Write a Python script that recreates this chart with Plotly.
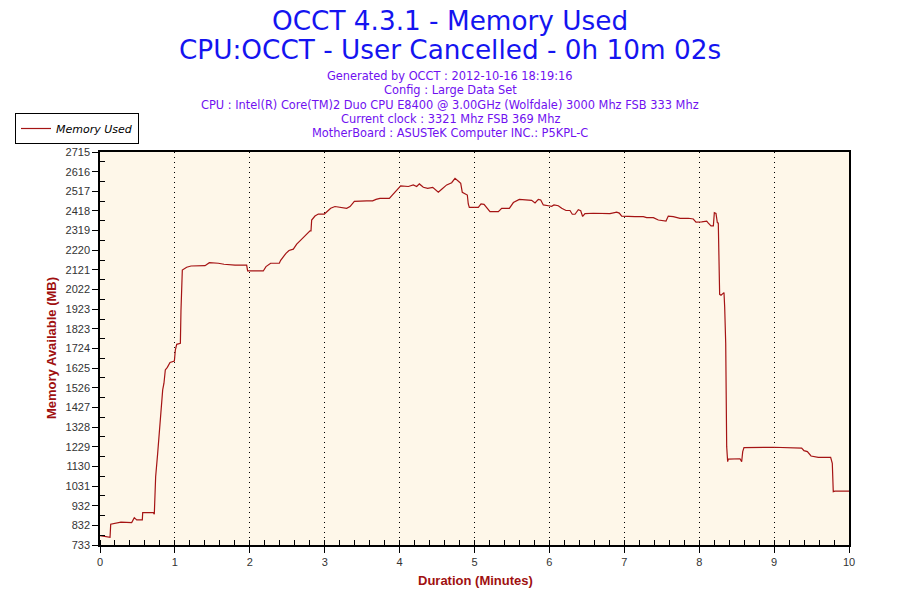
import numpy as np
import plotly.graph_objects as go

minutes = [0.0, 0.06, 0.134, 0.143, 0.28, 0.423, 0.458, 0.49, 0.565, 0.57, 0.712, 0.725, 0.734, 0.743,
           0.77, 0.788, 0.806, 0.823, 0.837, 0.854, 0.872, 0.899, 0.935, 0.993, 1.006, 1.024, 1.073,
           1.081, 1.099, 1.157, 1.215, 1.402, 1.46, 1.58, 1.656, 1.802, 1.958, 1.971, 2.18, 2.216,
           2.278, 2.394, 2.412, 2.483, 2.523, 2.581, 2.626, 2.67, 2.75, 2.804, 2.817, 2.826, 2.87,
           2.915, 2.995, 3.035, 3.08, 3.137, 3.226, 3.293, 3.338, 3.396, 3.56, 3.64, 3.685, 3.738,
           3.863, 3.939, 4.014, 4.117, 4.183, 4.228, 4.264, 4.317, 4.375, 4.442, 4.517, 4.562, 4.629,
           4.695, 4.74, 4.793, 4.816, 4.837, 4.904, 4.917, 4.931, 5.051, 5.087, 5.127, 5.207, 5.318,
           5.363, 5.465, 5.519, 5.598, 5.688, 5.763, 5.808, 5.852, 5.884, 5.919, 5.986, 6.03, 6.061,
           6.119, 6.164, 6.222, 6.275, 6.306, 6.342, 6.386, 6.418, 6.444, 6.475, 6.586, 6.809, 6.898,
           6.933, 6.965, 7.143, 7.254, 7.299, 7.388, 7.454, 7.512, 7.557, 7.587, 7.654, 7.744, 7.855,
           7.921, 7.957, 8.033, 8.1, 8.122, 8.158, 8.189, 8.202, 8.224, 8.242, 8.255, 8.264, 8.273,
           8.291, 8.309, 8.331, 8.34, 8.354, 8.367, 8.38, 8.389, 8.478, 8.545, 8.567, 8.581, 8.598,
           8.812, 8.834, 8.901, 8.99, 9.368, 9.399, 9.444, 9.493, 9.59, 9.755, 9.777, 9.79, 9.813, 10.0]

memory_mb = [780, 776, 772, 838, 848, 846, 871, 860, 860, 896, 896, 888, 960, 1077,
             1195, 1279, 1380, 1426, 1515, 1549, 1616, 1629, 1654, 1661, 1716, 1745, 1750,
             1913, 2120, 2134, 2140, 2142, 2157, 2154, 2149, 2144, 2144, 2115, 2115, 2137,
             2154, 2154, 2169, 2204, 2218, 2225, 2250, 2267, 2300, 2317, 2317, 2372, 2392,
             2402, 2402, 2414, 2431, 2440, 2434, 2431, 2440, 2466, 2469, 2469, 2476, 2481,
             2481, 2515, 2544, 2541, 2549, 2541, 2554, 2537, 2532, 2537, 2512, 2527, 2549,
             2560, 2582, 2565, 2557, 2512, 2498, 2453, 2436, 2436, 2453, 2451, 2414, 2414,
             2431, 2431, 2460, 2476, 2473, 2471, 2458, 2476, 2473, 2448, 2444, 2441, 2448,
             2444, 2431, 2420, 2420, 2401, 2401, 2424, 2419, 2390, 2404, 2406, 2404, 2412,
             2407, 2392, 2389, 2389, 2384, 2384, 2372, 2367, 2367, 2392, 2389, 2380, 2381,
             2377, 2361, 2363, 2366, 2356, 2342, 2342, 2409, 2405, 2359, 2356, 2196, 1997,
             1993, 2001, 2006, 1935, 1750, 1229, 1153, 1166, 1168, 1168, 1153, 1204, 1224,
             1224, 1227, 1224, 1226, 1222, 1209, 1204, 1182, 1175, 1175, 1145, 1002, 1005, 1005]

y_tick_labels = ["733", "832", "932", "1031", "1130", "1229", "1328", "1427", "1526", "1625",
                 "1724", "1823", "1923", "2022", "2121", "2220", "2319", "2418", "2517", "2616", "2715"]
x_tick_values = [0, 1, 2, 3, 4, 5, 6, 7, 8, 9, 10]

title_lines = ["OCCT 4.3.1 - Memory Used", "CPU:OCCT - User Cancelled - 0h 10m 02s"]
info_lines = ["Generated by OCCT : 2012-10-16 18:19:16",
              "Config : Large Data Set",
              "CPU : Intel(R) Core(TM)2 Duo CPU E8400 @ 3.00GHz (Wolfdale) 3000 Mhz FSB 333 Mhz",
              "Current clock : 3321 Mhz FSB 369 Mhz",
              "MotherBoard : ASUSTeK Computer INC.: P5KPL-C"]

y_min, y_max = 733, 2715
y_tick_vals = list(np.linspace(y_min, y_max, len(y_tick_labels)))

fig = go.Figure()
fig.add_trace(go.Scatter(
    x=minutes, y=memory_mb, mode="lines", name="Memory Used",
    line=dict(color="#A51414", width=1.2),
))

W, H = 900, 600
L, T = 100, 152
R = W - 849
B = H - 545
pw = W - L - R
ph = H - T - B

def px_to_paper_x(px):
    return (px - L) / pw

def px_to_paper_y(py):
    return (H - B - py) / ph

annotations = []
for txt, ypx in zip(title_lines, [21, 50]):
    annotations.append(dict(text=txt, x=px_to_paper_x(450), y=px_to_paper_y(ypx), xref="paper", yref="paper",
                            xanchor="center", yanchor="middle", showarrow=False,
                            font=dict(family="DejaVu Sans", size=26.3, color="#1414F0")))
for i, txt in enumerate(info_lines):
    annotations.append(dict(text=txt, x=px_to_paper_x(450), y=px_to_paper_y(76 + i * 14.25), xref="paper", yref="paper",
                            xanchor="center", yanchor="middle", showarrow=False,
                            font=dict(family="DejaVu Sans", size=11.4, color="#7010F0")))
annotations.append(dict(text="<b>Duration (Minutes)</b>", x=px_to_paper_x(475), y=px_to_paper_y(580),
                        xref="paper", yref="paper", xanchor="center", yanchor="middle", showarrow=False,
                        font=dict(family="Liberation Sans", size=13, color="#A01010")))
annotations.append(dict(text="<b>Memory Available (MB)</b>", x=px_to_paper_x(51), y=px_to_paper_y(348),
                        xref="paper", yref="paper", xanchor="center", yanchor="middle", showarrow=False,
                        textangle=-90,
                        font=dict(family="Liberation Sans", size=13, color="#A01010")))

fig.update_layout(
    width=W, height=H,
    margin=dict(l=L, r=R, t=T, b=B),
    paper_bgcolor="white",
    plot_bgcolor="#FEF7E9",
    showlegend=True,
    legend=dict(x=px_to_paper_x(15), y=px_to_paper_y(113), xanchor="left", yanchor="top",
                bordercolor="black", borderwidth=1, bgcolor="white",
                font=dict(family="DejaVu Sans", size=11, color="black", style="italic"),
                itemwidth=30, tracegroupgap=0),
    annotations=annotations,
    xaxis=dict(range=[0, 10], tickvals=x_tick_values, showgrid=True, gridcolor="black",
               griddash="1px,4px", gridwidth=1, zeroline=False, showline=True, linecolor="black",
               linewidth=1.5, mirror=True, ticks="outside", ticklen=6, tickcolor="black",
               tickfont=dict(family="Liberation Sans", size=11, color="#333333"),
               minor=dict(dtick=0.2, ticks="inside", ticklen=5, tickcolor="black", showgrid=False)),
    yaxis=dict(range=[y_min, y_max], tickvals=y_tick_vals, ticktext=y_tick_labels, showgrid=False,
               zeroline=False, showline=True, linecolor="black", linewidth=1.5, mirror=True,
               ticks="outside", ticklen=6, tickcolor="black",
               tickfont=dict(family="Liberation Sans", size=11, color="#333333"),
               minor=dict(tickvals=list((np.array(y_tick_vals[:-1]) + np.array(y_tick_vals[1:])) / 2),
                          ticks="inside", ticklen=5, tickcolor="black", showgrid=False)),
)

fig.write_html("out.html", post_script="document.body.style.margin='0';",
               config={"displayModeBar": False})
